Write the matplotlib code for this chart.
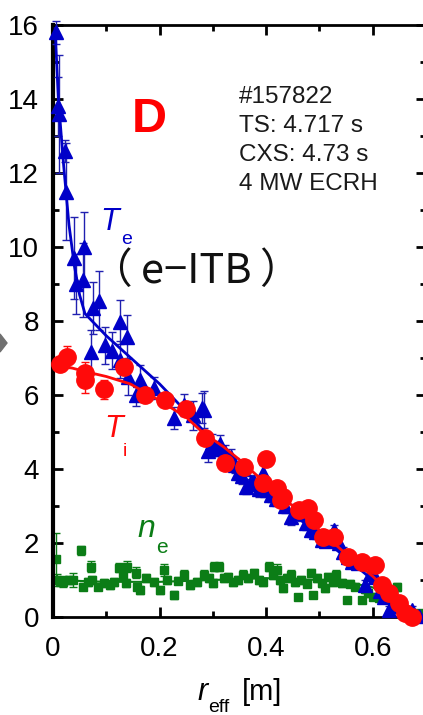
import numpy as np
import matplotlib
matplotlib.use('Agg')
import matplotlib.pyplot as plt
from matplotlib.patches import Polygon
from matplotlib.ticker import MultipleLocator

plt.rcParams['font.family'] = ['Liberation Sans', 'DejaVu Sans']

# ---- data ----
# electron temperature Te (keV), Thomson scattering
te_r = [0.006, 0.010, 0.012, 0.023, 0.025, 0.040, 0.043, 0.057, 0.058, 0.071, 0.075, 0.087,
        0.098, 0.111, 0.126, 0.126, 0.138, 0.140, 0.155, 0.164, 0.190, 0.227, 0.245, 0.262,
        0.280, 0.283, 0.290, 0.298, 0.305, 0.313, 0.322, 0.334, 0.341, 0.347, 0.355, 0.362,
        0.370, 0.378, 0.386, 0.394, 0.402, 0.410, 0.418, 0.428, 0.436, 0.447, 0.455, 0.466,
        0.474, 0.485, 0.493, 0.504, 0.512, 0.520, 0.528, 0.536, 0.545, 0.554, 0.562, 0.573,
        0.585, 0.594, 0.604, 0.613, 0.622, 0.630, 0.640, 0.648, 0.655, 0.664, 0.674, 0.687]
te_val = [15.8, 13.8, 13.6, 12.6, 11.5, 9.7, 9.0, 9.1, 10.0, 7.17, 8.35, 8.55,
          7.35, 7.2, 7.97, 6.95, 7.57, 6.5, 6.0, 6.4, 6.2, 5.37, 5.72, 5.45,
          5.65, 5.6, 4.5, 4.7, 4.55, 4.68, 4.45, 4.33, 4.1, 3.9, 3.8, 3.52,
          3.6, 3.65, 3.45, 3.9, 3.43, 3.3, 3.2, 3.24, 3.0, 2.7, 2.85, 2.8,
          2.55, 2.35, 2.3, 2.08, 2.05, 2.1, 2.35, 2.0, 1.75, 1.62, 1.5, 1.46,
          0.86, 1.15, 1.08, 0.7, 0.55, 0.19, 0.35, 0.3, 0.32, 0.15, 0.19, 0.02]
te_err = [0.3, 0.8, 1.6, 0.3, 1.3, 1.1, 0.8, 1.0, 0.95, 0.6, 0.7, 0.8,
          0.5, 0.5, 0.6, 0.5, 0.6, 0.5, 0.3, 0.4, 0.3, 0.3, 0.3, 0.4,
          0.4, 0.5, 0.3, 0.25, 0.2, 0.25, 0.2, 0.2, 0.2, 0.2, 0.2, 0.2,
          0.2, 0.2, 0.2, 0.2, 0.2, 0.2, 0.2, 0.2, 0.2, 0.2, 0.2, 0.2,
          0.2, 0.2, 0.2, 0.15, 0.15, 0.15, 0.15, 0.15, 0.15, 0.15, 0.15, 0.15,
          0.15, 0.15, 0.15, 0.1, 0.1, 0.1, 0.1, 0.1, 0.1, 0.1, 0.1, 0.05]
te_fit_r = [0.004, 0.010, 0.020, 0.030, 0.040, 0.050, 0.060, 0.080, 0.10, 0.15, 0.20, 0.25,
            0.30, 0.35, 0.40, 0.45, 0.50, 0.55, 0.60, 0.65, 0.68]
te_fit = [15.9, 14.0, 12.2, 10.6, 9.5, 8.7, 8.2, 7.9, 7.6, 6.95, 6.3, 5.55,
          4.75, 4.05, 3.45, 2.8, 2.2, 1.6, 1.0, 0.38, 0.0]

# ion temperature Ti (keV), CXS
ti_r = [0.013, 0.026, 0.060, 0.060, 0.095, 0.134, 0.172, 0.210, 0.249, 0.286, 0.323, 0.359,
        0.400, 0.394, 0.420, 0.432, 0.428, 0.462, 0.479, 0.490, 0.507, 0.528, 0.554, 0.579,
        0.604, 0.617, 0.630, 0.649, 0.661, 0.674]
ti_val = [6.85, 7.03, 6.6, 6.4, 6.15, 6.77, 6.0, 5.86, 5.62, 4.84, 4.15, 4.06,
          4.27, 3.62, 3.48, 3.24, 3.16, 2.9, 2.94, 2.62, 2.16, 2.16, 1.62, 1.49,
          1.41, 0.86, 0.65, 0.38, 0.1, 0.0]
ti_err = [0.2, 0.3, 0.3, 0.35, 0.25, 0.2, 0.15, 0.15, 0.15, 0.15, 0.1, 0.1,
          0.1, 0.1, 0.1, 0.1, 0.1, 0.1, 0.1, 0.1, 0.1, 0.1, 0.1, 0.1,
          0.1, 0.1, 0.1, 0.1, 0.1, 0.1]
ti_fit_r = [0.005, 0.03, 0.07, 0.10, 0.145, 0.20, 0.25, 0.28, 0.32, 0.35, 0.40, 0.45,
            0.50, 0.55, 0.60, 0.65, 0.67]
ti_fit = [6.8, 6.75, 6.6, 6.5, 6.3, 5.85, 5.4, 5.0, 4.6, 4.25, 3.6, 3.0,
          2.35, 1.7, 1.1, 0.4, 0.1]

# electron density ne (1e19 m^-3)
ne_r = [0.006, 0.007, 0.013, 0.019, 0.030, 0.038, 0.052, 0.056, 0.065, 0.071, 0.073, 0.085,
        0.095, 0.107, 0.115, 0.123, 0.131, 0.139, 0.137, 0.155, 0.157, 0.164, 0.175, 0.189,
        0.200, 0.208, 0.214, 0.227, 0.235, 0.245, 0.258, 0.270, 0.284, 0.292, 0.302, 0.312,
        0.300, 0.320, 0.328, 0.338, 0.347, 0.356, 0.366, 0.378, 0.386, 0.394, 0.406, 0.413,
        0.420, 0.426, 0.432, 0.440, 0.447, 0.455, 0.460, 0.466, 0.476, 0.485, 0.488, 0.496,
        0.504, 0.510, 0.517, 0.525, 0.532, 0.542, 0.551, 0.558, 0.566, 0.579, 0.585, 0.592,
        0.600, 0.611, 0.620, 0.630, 0.638, 0.645, 0.655, 0.668, 0.687]
ne_val = [1.58, 1.0, 0.97, 0.95, 1.0, 1.0, 1.8, 0.82, 0.95, 1.36, 1.0, 0.82,
          0.92, 0.87, 0.95, 1.33, 1.1, 1.36, 0.92, 1.2, 0.82, 0.73, 1.05, 0.95,
          0.73, 1.27, 1.0, 0.6, 0.98, 1.14, 0.87, 0.95, 1.14, 1.05, 1.36, 1.36,
          0.92, 1.05, 1.08, 0.95, 1.0, 1.14, 1.05, 1.19, 1.0, 0.95, 1.36, 1.14,
          1.27, 1.0, 0.78, 1.05, 1.14, 0.95, 0.54, 1.0, 0.9, 1.19, 0.6, 1.05,
          0.92, 0.78, 1.08, 0.95, 1.14, 0.92, 0.46, 0.9, 0.82, 0.46, 0.75, 0.65,
          0.55, 0.51, 0.6, 0.65, 0.45, 0.81, 0.38, 0.19, 0.1]
ne_err = [0.7, 0.15, 0.12, 0.15, 0.1, 0.2, 0.12, 0.1, 0.1, 0.15, 0.12, 0.1,
          0.12, 0.12, 0.1, 0.12, 0.1, 0.15, 0.1, 0.15, 0.1, 0.1, 0.1, 0.1,
          0.1, 0.15, 0.1, 0.1, 0.1, 0.12, 0.1, 0.1, 0.12, 0.1, 0.12, 0.12,
          0.1, 0.1, 0.12, 0.1, 0.12, 0.12, 0.1, 0.12, 0.1, 0.1, 0.12, 0.12,
          0.15, 0.1, 0.1, 0.1, 0.12, 0.1, 0.08, 0.12, 0.1, 0.12, 0.08, 0.1,
          0.1, 0.1, 0.12, 0.1, 0.12, 0.1, 0.08, 0.1, 0.1, 0.08, 0.1, 0.1,
          0.1, 0.08, 0.1, 0.1, 0.08, 0.1, 0.08, 0.06, 0.05]
ne_fit_r = [0.0, 0.1, 0.2, 0.3, 0.4, 0.5, 0.55, 0.6, 0.65, 0.68]
ne_fit = [1.0, 0.95, 0.95, 1.0, 1.05, 1.0, 0.95, 0.8, 0.45, 0.1]

x_ticks = [0, 0.2, 0.4, 0.6]
x_tick_labels = ['0', '0.2', '0.4', '0.6']
y_ticks = [0, 2, 4, 6, 8, 10, 12, 14, 16]

BLUE = '#0000c8'
RED = '#ff0a0a'
GREEN = '#0b7d16'

W, H = 423, 715
fig = plt.figure(figsize=(W / 100, H / 100), dpi=100)
ax = fig.add_axes([53 / W, 1 - 617 / H, 373 / W, 592 / H])


def px(x, y):
    # pixel position in the picture -> figure fraction
    return x / W, 1 - y / H


# green density
ax.errorbar(ne_r, ne_val, yerr=ne_err, fmt='s', ms=6, color=GREEN, ecolor=GREEN,
            elinewidth=1, capsize=3, capthick=1, mec=GREEN, zorder=2, clip_on=False)
ax.plot(ne_fit_r, ne_fit, color=GREEN, lw=1.5, zorder=2)

# blue Te
ax.errorbar(te_r, te_val, yerr=te_err, fmt='^', ms=10.5, color=BLUE, ecolor='#2020b0',
            elinewidth=1, capsize=3, capthick=1, mec=BLUE, zorder=3, clip_on=False)
ax.plot(te_fit_r, te_fit, color=BLUE, lw=2, zorder=3)

# red Ti
ax.plot(ti_fit_r, ti_fit, color=RED, lw=2, zorder=4)
ax.errorbar(ti_r, ti_val, yerr=ti_err, fmt='o', ms=12.5, color=RED, ecolor=RED,
            elinewidth=1, capsize=3, capthick=1, mec=RED, zorder=5, clip_on=False)

ax.set_xlim(0, 0.7)
ax.set_ylim(0, 16)
ax.set_xticks(x_ticks)
ax.set_xticklabels(x_tick_labels)
ax.set_yticks(y_ticks)
ax.xaxis.set_minor_locator(MultipleLocator(0.1))
ax.yaxis.set_minor_locator(MultipleLocator(1))
ax.tick_params(which='both', direction='in', top=True, right=True, width=2)
ax.tick_params(which='major', length=7, labelsize=20, pad=10)
ax.tick_params(which='minor', length=4)
ax.tick_params(axis='x', which='major', pad=14)
for s in ax.spines.values():
    s.set_linewidth(2)
ax.spines['left'].set_linewidth(3)

# labels and annotations
fig.text(*px(132, 132), 'D', color='#ff0000', fontsize=35, fontweight='bold',
         ha='left', va='baseline')
info = ['#157822', 'TS: 4.717 s', 'CXS: 4.73 s', '4 MW ECRH']
for i, line in enumerate(info):
    fig.text(*px(239, 103 + 29 * i), line, color='#1a1a1a', fontsize=17.5,
             ha='left', va='baseline')
fig.text(*px(196, 271), '\uff08\u2009e\u2212ITB\u2009\uff09', fontsize=30, ha='center',
         va='center', family=['Noto Sans CJK JP', 'DejaVu Sans'], color='#111111')

fig.text(*px(100, 230), 'T', color=BLUE, fontsize=22, style='italic', va='baseline')
fig.text(*px(121, 244), 'e', color=BLUE, fontsize=14, va='baseline')
fig.text(*px(104, 437), 'T', color=RED, fontsize=22, style='italic', va='baseline')
fig.text(*px(123, 456), 'i', color=RED, fontsize=14, va='baseline')
fig.text(*px(137, 537), 'n', color=GREEN, fontsize=23, style='italic', va='baseline')
fig.text(*px(156, 553), 'e', color=GREEN, fontsize=15, va='baseline')

fig.text(*px(197, 700), 'r', fontsize=22, style='italic', va='baseline')
fig.text(*px(208, 712), 'eff', fontsize=14, va='baseline')
fig.text(*px(242, 700), '[m]', fontsize=21, va='baseline')

# cropped grey arrow tip at the left edge
fig.patches.append(Polygon([px(0, 334), px(7, 343), px(0, 352)], closed=True,
                           transform=fig.transFigure, color='#707070', figure=fig))

fig.savefig('out.png', dpi=100)
